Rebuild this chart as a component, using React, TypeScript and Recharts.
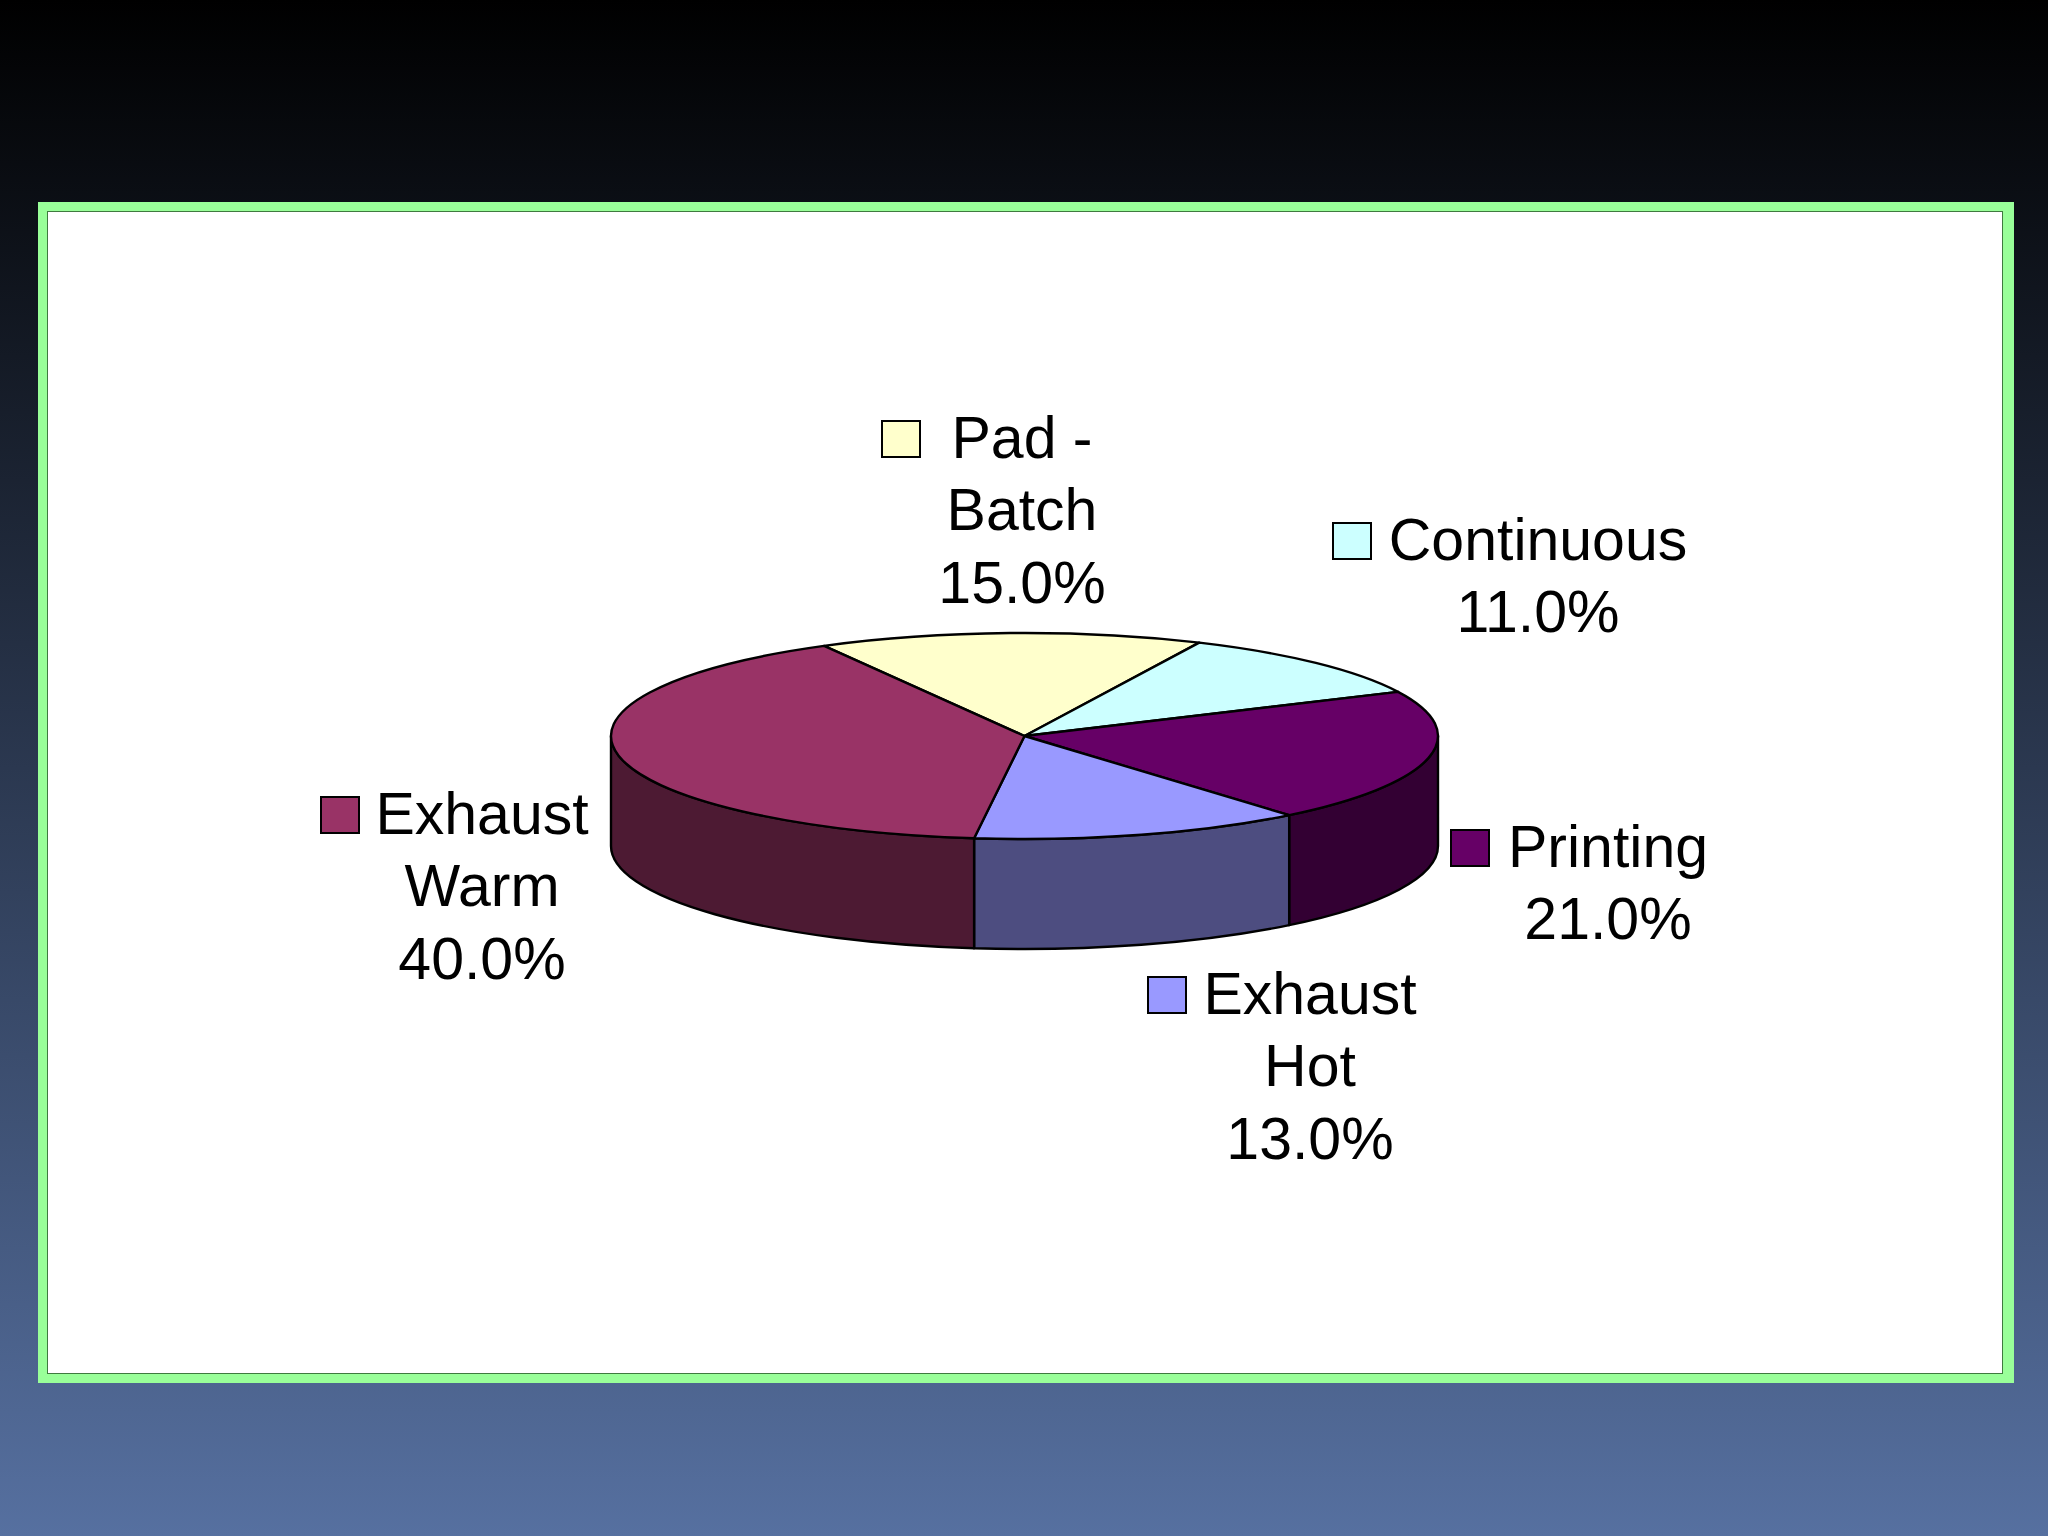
import { PieChart, Pie } from 'recharts'

const categories = ['Pad - Batch', 'Continuous', 'Printing', 'Exhaust Hot', 'Exhaust Warm']
const shares = [15, 11, 21, 13, 40]
const labelLines = [['Pad -', 'Batch'], ['Continuous'], ['Printing'], ['Exhaust', 'Hot'], ['Exhaust', 'Warm']]
const topColors = ['#FFFFCC', '#CCFFFF', '#660066', '#9999FF', '#993366']
const wallColors = ['#80806A', '#668080', '#330033', '#4D4D80', '#4D1A33']

// label anchor: centre of the text, first baseline, left edge of the swatch
const labelLayout = [
  { x: 1022, y: 458, swatch: 882 },
  { x: 1538, y: 560, swatch: 1333 },
  { x: 1608, y: 867, swatch: 1451 },
  { x: 1310, y: 1014, swatch: 1148 },
  { x: 482, y: 834, swatch: 321 },
]

const CX = 1024.5
const CY = 736
const RX = 413.5
const RY = 103
const DEPTH = 110
const RAD = Math.PI / 180

const rows = categories.map((name, i) => ({
  name,
  value: shares[i],
  fill: topColors[i],
  wall: wallColors[i],
}))

function pt(angle: number, drop = 0) {
  return `${CX + RX * Math.cos(angle * RAD)},${CY + drop - RY * Math.sin(angle * RAD)}`
}

function TopSlice(props: any) {
  const { startAngle, endAngle, fill } = props
  const large = Math.abs(endAngle - startAngle) > 180 ? 1 : 0
  const d = `M${CX},${CY} L${pt(startAngle)} A${RX},${RY} 0 ${large} 1 ${pt(endAngle)} Z`
  return <path d={d} fill={fill} stroke="#000" strokeWidth={2.4} strokeLinejoin="round" />
}

function WallSlice(props: any) {
  const { startAngle, endAngle, payload } = props
  // only the front half of the rim shows
  const from = Math.min(startAngle, 0)
  const to = Math.max(endAngle, -180)
  if (from <= to) return <g />
  const d =
    `M${pt(from)} A${RX},${RY} 0 0 1 ${pt(to)} L${pt(to, DEPTH)} ` +
    `A${RX},${RY} 0 0 0 ${pt(from, DEPTH)} Z`
  return <path d={d} fill={payload.wall} stroke="#000" strokeWidth={2.4} strokeLinejoin="round" />
}

function SliceLabel(props: any) {
  const { index } = props
  const pos = labelLayout[index]
  const lines = [...labelLines[index], `${shares[index].toFixed(1)}%`]
  return (
    <g>
      <rect
        x={pos.swatch}
        y={pos.y - 37}
        width={38}
        height={36}
        fill={topColors[index]}
        stroke="#000"
        strokeWidth={2}
      />
      {lines.map((line, i) => (
        <text
          key={line}
          x={pos.x}
          y={pos.y + i * 72.3}
          textAnchor="middle"
          fontFamily="Liberation Sans"
          fontSize={59}
          fill="#000"
        >
          {line}
        </text>
      ))}
    </g>
  )
}

export default function App() {
  return (
    <div
      style={{
        position: 'relative',
        width: 2048,
        height: 1536,
        overflow: 'hidden',
        background: 'linear-gradient(180deg, #000000 0%, #5670A0 100%)',
      }}
    >
      <style>{'body{margin:0}'}</style>
      <div
        style={{
          position: 'absolute',
          left: 38,
          top: 202,
          width: 1976,
          height: 1181,
          background: '#99FF99',
        }}
      />
      <div
        style={{
          position: 'absolute',
          left: 47,
          top: 211,
          width: 1954,
          height: 1161,
          background: '#FFFFFF',
          border: '1px solid #3F7A3F',
        }}
      />
      <div style={{ position: 'absolute', left: 0, top: 0 }}>
        <PieChart width={2048} height={1536} margin={{ top: 0, right: 0, bottom: 0, left: 0 }}>
          <Pie
            data={rows}
            dataKey="value"
            cx={CX}
            cy={CY}
            outerRadius={RX}
            startAngle={119}
            endAngle={-241}
            stroke="none"
            shape={WallSlice}
            isAnimationActive={false}
          />
          <Pie
            data={rows}
            dataKey="value"
            cx={CX}
            cy={CY}
            outerRadius={RX}
            startAngle={119}
            endAngle={-241}
            stroke="none"
            shape={TopSlice}
            label={SliceLabel}
            labelLine={false}
            isAnimationActive={false}
          />
        </PieChart>
      </div>
    </div>
  )
}
